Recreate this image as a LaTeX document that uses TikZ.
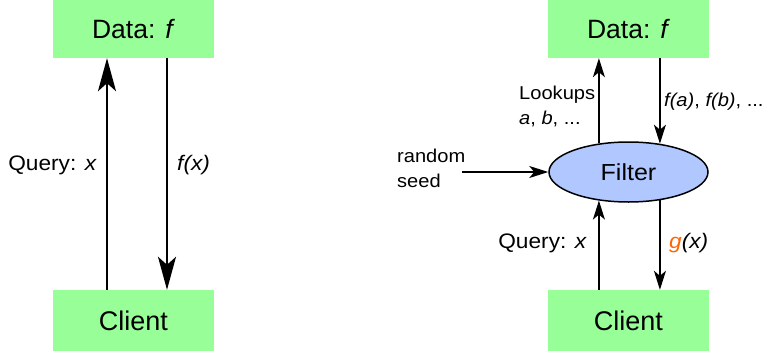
\documentclass[tikz,border=0pt]{standalone}
\usepackage{fontspec}
\setmainfont{Liberation Sans}[FakeStretch=1.08]
\newfontfamily\boxfont{Liberation Sans}
\usetikzlibrary{arrows.meta,shapes.geometric}
\definecolor{boxgreen}{RGB}{152,255,152}
\definecolor{filterblue}{RGB}{176,200,255}
\definecolor{gorange}{RGB}{255,102,0}
\tikzset{
  box/.style={fill=boxgreen, draw=none, minimum width=161pt, inner sep=0pt},
  bigarr/.style={line width=2pt, -{Stealth[length=33pt,width=18pt,inset=8pt]}},
  smallarr/.style={line width=1.3pt, -{Stealth[length=19pt,width=12pt,inset=5pt]}},
  lbl/.style={inner sep=0pt, font=\fontsize{21}{25}\selectfont},
  slbl/.style={inner sep=0pt, font=\fontsize{18.6}{25}\selectfont},
  filterstyle/.style={ellipse, draw=black, line width=1.5pt, fill=filterblue,
    minimum width=159pt, minimum height=60pt, inner sep=0pt,
    font=\fontsize{23.2}{27}\selectfont}
}
\begin{document}
\begin{tikzpicture}[x=1pt,y=-1pt]
\useasboundingbox (0,0) rectangle (763,351);
% left diagram
\node[box, minimum height=58pt, font=\boxfont\fontsize{26.5}{30}\selectfont] (data1) at (133.5,29) {Data: \textit{f}};
\node[box, minimum height=61pt, font=\boxfont\fontsize{27}{30}\selectfont] (client1) at (133.5,320.5) {Client};
\draw[bigarr] ([xshift=-26.5pt]client1.north) -- ([xshift=-26.5pt]data1.south);
\draw[bigarr] ([xshift=33.5pt]data1.south) -- ([xshift=33.5pt]client1.north);
\node[lbl, anchor=base east] (q1) at (97,170.5) {Query: \textit{x}};
\node[lbl, anchor=base west] (fx) at (177,170.5) {\textit{f(x)}};
% right diagram
\node[box, minimum height=58pt, font=\boxfont\fontsize{26.5}{30}\selectfont] (data2) at (628.5,29) {Data: \textit{f}};
\node[box, minimum height=61pt, font=\boxfont\fontsize{27}{30}\selectfont] (client2) at (628.5,320.5) {Client};
\node[filterstyle] (filter) at (628.5,172) {Filter};
\coordinate (seedin) at (462,172);
\draw[smallarr] (seedin) -- (filter.west);
\draw[smallarr] (filter.136) -- (filter.136 |- data2.south);
\draw[smallarr] (data2.south -| filter.42) -- (filter.42);
\draw[smallarr] (client2.north -| filter.224) -- (filter.224);
\draw[smallarr] (filter.-42) -- (filter.-42 |- client2.north);
\node[slbl, anchor=base west] (look) at (519,99.5) {Lookups};
\node[slbl, anchor=base west] (lookab) at (519,124) {\textit{a}, \textit{b}, ...};
\node[slbl, anchor=base west] (fab) at (664,106) {\textit{f(a)}, \textit{f(b)}, ...};
\node[slbl, anchor=base west] (rnd) at (397,162) {random};
\node[slbl, anchor=base west] (seed) at (397,187) {seed};
\node[lbl, anchor=base east] (q2) at (587,248) {Query: \textit{x}};
\node[lbl, anchor=base west] (gx) at (669,248) {\textcolor{gorange}{\textit{g}}\textit{(x)}};
\end{tikzpicture}
\end{document}
